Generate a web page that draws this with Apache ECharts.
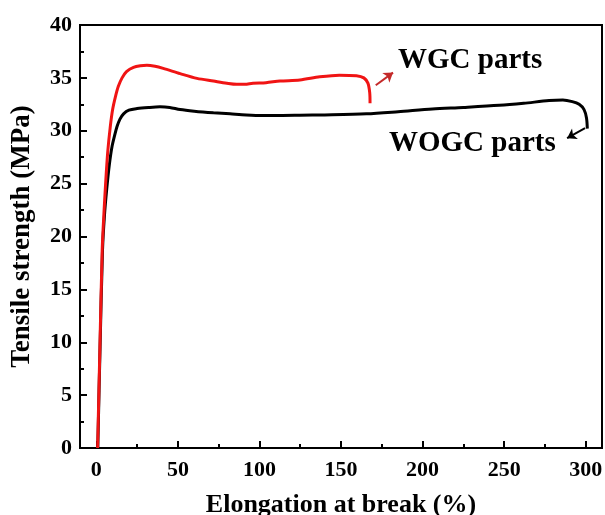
<!DOCTYPE html>
<html>
<head>
<meta charset="utf-8">
<script src="https://cdn.jsdelivr.net/npm/echarts@6/dist/echarts.min.js"></script>
<style>
  html, body { margin: 0; padding: 0; background: #fff; }
  #chart { width: 605px; height: 515px; }
</style>
</head>
<body>
<div id="chart"></div>
<script>
// Stress–strain curves (elongation %, tensile strength MPa)
const wgcX = [0.8, 2.2, 3.6, 4.6, 5.7, 7.0, 8.5, 10.0, 11.7, 13.5, 15.8, 18.5, 22.8, 27, 31, 36, 41, 51.4, 61.7, 71.8, 80, 86, 91, 96, 104, 112.6, 124.8, 137, 149, 159.5, 164, 166.5, 167.6, 167.8];
const wgcY = [0, 9.5, 18.7, 22, 25, 28, 30.3, 32, 33.2, 34.2, 35.0, 35.6, 36.0, 36.15, 36.2, 36.1, 35.9, 35.4, 34.95, 34.7, 34.5, 34.4, 34.4, 34.5, 34.55, 34.7, 34.8, 35.1, 35.26, 35.2, 35.0, 34.5, 33.6, 32.6];

const wogcX = [0.9, 2.3, 3.8, 5.0, 6.4, 8.0, 9.5, 11.3, 12.7, 14.5, 16.7, 20, 25, 32, 39, 45, 51.4, 60, 71.8, 82, 92, 102, 112.6, 124.8, 140, 165.6, 185, 206, 225, 247, 262, 277.6, 286, 291.8, 296, 299, 300.5, 301];
const wogcY = [0, 9.5, 18.7, 22, 24.5, 26.8, 28.4, 29.6, 30.4, 31.1, 31.6, 31.95, 32.1, 32.2, 32.26, 32.2, 32.0, 31.85, 31.7, 31.6, 31.5, 31.45, 31.45, 31.47, 31.5, 31.6, 31.8, 32.05, 32.2, 32.4, 32.6, 32.85, 32.9, 32.75, 32.5, 32.0, 31.2, 30.2];

const xMajorTicks = [0, 50, 100, 150, 200, 250, 300];
const xMinorTicks = [25, 75, 125, 175, 225, 275];

// Pointer arrows from each curve to its caption (data coordinates)
const wgcArrow = [[171.3, 34.3], [181.9, 35.5]];
const wogcArrow = [[299.6, 30.25], [288.6, 29.3]];

const FONT = "'Liberation Serif', 'Times New Roman', serif";

const toPairs = (xs, ys) => xs.map((x, i) => [x, ys[i]]);

const chart = echarts.init(document.getElementById('chart'), null, { renderer: 'canvas' });

const baseX = {
  type: 'value', min: -10, max: 310, position: 'bottom',
  splitLine: { show: false }
};

chart.setOption({
  animation: false,
  backgroundColor: '#ffffff',
  grid: {
    left: 80, right: 3, top: 25, bottom: 67,
    outerBoundsMode: 'none',
    containLabel: false,
    show: true, borderColor: '#000', borderWidth: 2, backgroundColor: 'transparent'
  },
  xAxis: [
    Object.assign({}, baseX, {
      name: 'Elongation at break (%)',
      nameLocation: 'middle',
      nameGap: 44,
      nameTextStyle: { fontFamily: FONT, fontWeight: 'bold', fontSize: 26, color: '#000' },
      axisLine: { show: true, onZero: false, lineStyle: { color: '#000', width: 2 } },
      axisTick: { show: true, inside: true, length: 7, lineStyle: { color: '#000', width: 2 }, customValues: xMajorTicks },
      axisLabel: { show: true, margin: 11, customValues: xMajorTicks, fontFamily: FONT, fontWeight: 'bold', fontSize: 22, color: '#000' }
    }),
    Object.assign({}, baseX, {
      axisLine: { show: false, onZero: false },
      axisTick: { show: true, inside: true, length: 4, lineStyle: { color: '#000', width: 2 }, customValues: xMinorTicks },
      axisLabel: { show: false }
    })
  ],
  yAxis: {
    type: 'value', min: 0, max: 40, interval: 5,
    name: 'Tensile strength (MPa)',
    nameLocation: 'middle',
    nameRotate: 90,
    nameGap: 44,
    nameTextStyle: { fontFamily: FONT, fontWeight: 'bold', fontSize: 27, color: '#000' },
    splitLine: { show: false },
    axisLine: { show: true, onZero: false, lineStyle: { color: '#000', width: 2 } },
    axisTick: { show: true, inside: true, length: 7, lineStyle: { color: '#000', width: 2 } },
    minorTick: { show: true, splitNumber: 2, length: 4, lineStyle: { color: '#000', width: 2 } },
    axisLabel: { margin: 8, fontFamily: FONT, fontWeight: 'bold', fontSize: 22, color: '#000' }
  },
  series: [
    {
      name: 'WOGC parts',
      type: 'line',
      data: toPairs(wogcX, wogcY),
      showSymbol: false,
      smooth: 0.3,
      lineStyle: { color: '#000', width: 3 },
      z: 2,
      markLine: {
        silent: true,
        symbol: ['none', 'arrow'],
        symbolSize: 9,
        label: { show: false },
        lineStyle: { color: '#000', width: 2, type: 'solid' },
        data: [[{ coord: wogcArrow[0] }, { coord: wogcArrow[1] }]]
      }
    },
    {
      name: 'WGC parts',
      type: 'line',
      data: toPairs(wgcX, wgcY),
      showSymbol: false,
      smooth: 0.3,
      lineStyle: { color: '#f01414', width: 3 },
      z: 3,
      markLine: {
        silent: true,
        symbol: ['none', 'arrow'],
        symbolSize: 9,
        label: { show: false },
        lineStyle: { color: '#c42a2a', width: 2, type: 'solid' },
        data: [[{ coord: wgcArrow[0] }, { coord: wgcArrow[1] }]]
      }
    }
  ],
  graphic: [
    {
      type: 'text', left: 398, top: 46,
      style: { text: 'WGC parts', font: "bold 29px " + FONT, fill: '#000' }
    },
    {
      type: 'text', left: 389, top: 129,
      style: { text: 'WOGC parts', font: "bold 29px " + FONT, fill: '#000' }
    }
  ]
});
</script>
</body>
</html>
